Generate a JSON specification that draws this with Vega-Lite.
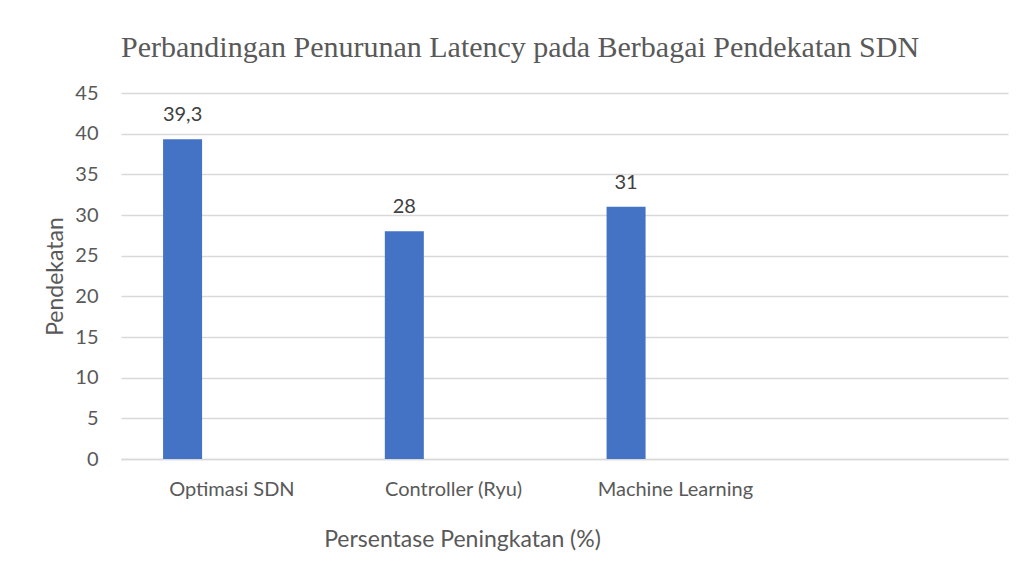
{
  "$schema": "https://vega.github.io/schema/vega-lite/v6.json",
  "autosize": "none",
  "width": 887,
  "height": 366,
  "padding": {"left": 121, "top": 93, "right": 13, "bottom": 106},
  "background": "white",
  "config": {
    "view": {"stroke": null},
    "locale": {"number": {"decimal": ",", "thousands": ".", "grouping": [3], "currency": ["", ""]}},
    "font": "Lato"
  },
  "title": {
    "text": "Perbandingan Penurunan Latency pada Berbagai Pendekatan SDN",
    "font": "Liberation Serif",
    "fontSize": 30,
    "fontWeight": "normal",
    "color": "#595959",
    "anchor": "start",
    "frame": "group",
    "baseline": "alphabetic",
    "offset": 38,
    "dy": 42
  },
  "data": {
    "values": [
      {"pendekatan": "Optimasi SDN", "nilai": 39.3},
      {"pendekatan": "Controller (Ryu)", "nilai": 28},
      {"pendekatan": "Machine Learning", "nilai": 31}
    ]
  },
  "encoding": {
    "x": {
      "field": "pendekatan",
      "type": "nominal",
      "sort": null,
      "scale": {"domain": ["Optimasi SDN", "Controller (Ryu)", "Machine Learning", " "], "paddingInner": 0, "paddingOuter": 0},
      "axis": {
        "title": "Persentase Peningkatan (%)",
        "labelAngle": 0,
        "labelFont": "Lato",
        "labelFontSize": 20,
        "labelColor": "#595959",
        "labelBaseline": "alphabetic",
        "labelPadding": 36,
        "ticks": false,
        "domain": true,
        "domainColor": "#d9d9d9",
        "domainWidth": 1.5,
        "grid": false,
        "titleFont": "Lato",
        "titleFontSize": 23,
        "titleFontWeight": "normal",
        "titleColor": "#595959",
        "titleBaseline": "alphabetic",
        "titleX": 341,
        "titleY": 87,
        "titleAlign": "center"
      }
    },
    "y": {
      "field": "nilai",
      "type": "quantitative",
      "scale": {"domain": [0, 45], "nice": false},
      "axis": {
        "title": "Pendekatan",
        "values": [0, 5, 10, 15, 20, 25, 30, 35, 40, 45],
        "labelFont": "Lato",
        "labelFontSize": 20,
        "labelColor": "#595959",
        "labelPadding": 23,
        "ticks": false,
        "domain": false,
        "grid": true,
        "gridColor": "#d9d9d9",
        "gridWidth": 1.5,
        "titleFont": "Lato",
        "titleFontSize": 23,
        "titleFontWeight": "normal",
        "titleColor": "#595959",
        "titleBaseline": "alphabetic",
        "titleAngle": -90,
        "titleX": -59,
        "titleY": 183,
        "titleAlign": "center"
      }
    }
  },
  "layer": [
    {
      "mark": {"type": "bar", "color": "#4472C4", "width": 39, "xOffset": -49.3}
    },
    {
      "mark": {"type": "text", "font": "Lato", "fontSize": 20, "color": "#404040", "baseline": "alphabetic", "dy": -18, "xOffset": -49.3},
      "encoding": {
        "text": {"field": "nilai", "type": "quantitative", "format": ".1~f"}
      }
    }
  ]
}
